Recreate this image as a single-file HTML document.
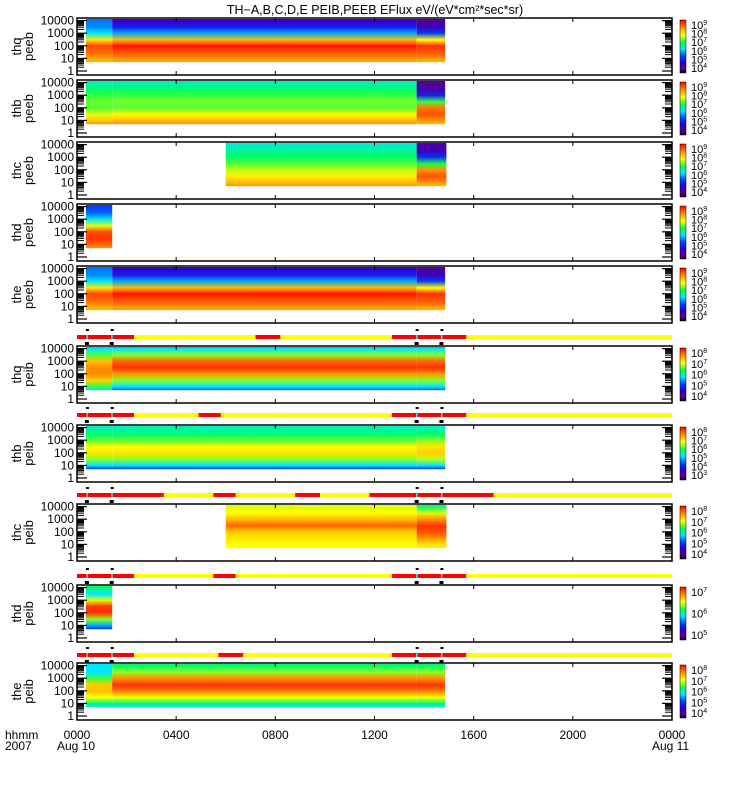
<!DOCTYPE html>
<html><head><meta charset="utf-8"><style>
body{margin:0;background:#fff;}
svg{display:block;font-family:"Liberation Sans",sans-serif;}
</style></head><body>
<svg id="chart" width="750" height="800" xmlns="http://www.w3.org/2000/svg">
<defs id="defs"></defs>
<text x="375" y="14" text-anchor="middle" font-size="12.5">TH−A,B,C,D,E PEIB,PEEB EFlux eV/(eV*cm²*sec*sr)</text>
</svg>
<script>
// ---- data ----
const panelNames=["thq peeb","thb peeb","thc peeb","thd peeb","the peeb","thq peib","thb peib","thc peib","thd peib","the peib"];
const panelTops=[18,80,142,204,266,346,425,504,585,663];
const energies=[5,10,30,100,300,1000,3000,10000,25000];
// profiles: normalized log flux (0..1) at each energy
const profA=[0.82,0.85,0.92,0.98,0.80,0.40,0.25,0.18,0.16];
const profA0=[0.80,0.83,0.90,0.93,0.75,0.45,0.38,0.36,0.35];
const profAe=[0.80,0.85,0.92,0.95,0.72,0.30,0.15,0.10,0.10];
const profB=[0.85,0.80,0.72,0.62,0.64,0.60,0.55,0.50,0.50];
const profB0=[0.85,0.78,0.70,0.62,0.63,0.60,0.55,0.50,0.50];
const profBe=[0.80,0.85,0.92,0.88,0.60,0.25,0.12,0.10,0.10];
const profC=[0.85,0.80,0.74,0.68,0.62,0.56,0.52,0.48,0.48];
const profCe=[0.80,0.85,0.92,0.85,0.58,0.28,0.15,0.12,0.12];
const profD=[0.85,0.90,0.95,0.92,0.70,0.45,0.35,0.30,0.30];
const profI_q=[0.35,0.45,0.65,0.85,0.95,0.90,0.65,0.45,0.40];
const profI_q0=[0.45,0.60,0.78,0.86,0.86,0.80,0.62,0.45,0.42];
const profI_b=[0.30,0.45,0.65,0.75,0.72,0.62,0.55,0.50,0.50];
const profI_be=[0.30,0.45,0.68,0.78,0.75,0.65,0.55,0.50,0.50];
const profI_c=[0.72,0.72,0.75,0.78,0.90,0.80,0.72,0.70,0.70];
const profI_ce=[0.70,0.75,0.85,0.92,0.95,0.85,0.70,0.55,0.50];
const profI_d=[0.30,0.40,0.65,0.95,0.95,0.70,0.45,0.55,0.55];
const profI_e=[0.45,0.55,0.72,0.88,0.95,0.85,0.65,0.55,0.55];
const profI_e0=[0.45,0.55,0.72,0.80,0.78,0.60,0.45,0.45,0.45];
// segments per panel: [startHour, endHour, profile]
const segments=[
 [[0.36,1.42,profA0],[1.42,13.7,profA],[13.7,14.85,profAe]],
 [[0.36,1.42,profB0],[1.42,13.7,profB],[13.7,14.85,profBe]],
 [[6.0,13.7,profC],[13.7,14.9,profCe]],
 [[0.36,1.42,profD]],
 [[0.36,1.42,profA0],[1.42,13.7,profA],[13.7,14.85,profAe]],
 [[0.36,1.42,profI_q0],[1.42,13.7,profI_q],[13.7,14.85,profI_q]],
 [[0.36,1.42,profI_b],[1.42,13.7,profI_b],[13.7,14.85,profI_be]],
 [[6.0,13.7,profI_c],[13.7,14.9,profI_ce]],
 [[0.36,1.42,profI_d]],
 [[0.36,1.42,profI_e0],[1.42,13.7,profI_e],[13.7,14.85,profI_e]]
];
const colorbarLabels=[[4,9],[4,9],[4,9],[4,9],[4,9],[4,8],[3,8],[4,8],[5,7],[4,8]];
const barYs=[337,415,495,576,655];
const barRed=[
 [[0,2.3],[7.2,8.2],[12.7,15.7]],
 [[0,2.3],[4.9,5.8],[12.7,15.7]],
 [[0,3.5],[5.5,6.4],[8.8,9.8],[11.8,16.8]],
 [[0,2.3],[5.5,6.4],[12.7,15.7]],
 [[0,2.3],[5.7,6.7],[12.7,15.7]]
];
const markerHours=[0.4,1.4,13.7,14.7];
const tickHours=[0,4,8,12,16,20,24];
const tickLabels=["0000","0400","0800","1200","1600","2000","0000"];
// ---- helpers ----
const NS="http://www.w3.org/2000/svg";
const svg=document.getElementById('chart');
const defs=document.getElementById('defs');
const X0=77,X1=672,PH=57;
function xs(t){return X0+t/24*(X1-X0);}
function ys(top,e){return top+PH-4-Math.log10(e)*12.6;}
const cmap=[[0,[20,0,30]],[0.08,[90,0,140]],[0.2,[40,0,220]],[0.32,[0,70,255]],[0.45,[0,230,255]],[0.57,[0,255,80]],[0.72,[255,255,0]],[0.86,[255,140,0]],[1,[255,0,0]]];
function col(v){v=Math.max(0,Math.min(1,v));for(let i=1;i<cmap.length;i++){if(v<=cmap[i][0]){const a=cmap[i-1],b=cmap[i];const f=(v-a[0])/(b[0]-a[0]);const c=a[1].map((q,k)=>Math.round(q+(b[1][k]-q)*f));return`rgb(${c})`;}}return'rgb(255,0,0)';}
function el(tag,attrs,parent){const e=document.createElementNS(NS,tag);for(const k in attrs)e.setAttribute(k,attrs[k]);(parent||svg).appendChild(e);return e;}
let gid=0;
panelNames.forEach((name,p)=>{
 const top=panelTops[p];
 const g=el('g',{});
 
 
 segments[p].forEach(s=>{
  const yTop=top+1,yBot=ys(top,energies[0]);
  const id='gr'+(gid++);
  const lg=el('linearGradient',{id:id,x1:0,y1:0,x2:0,y2:1},defs);
  for(let i=energies.length-1;i>=0;i--){const yy=ys(top,energies[i]);let off=(yy-yTop)/(yBot-yTop);off=Math.max(0,Math.min(1,off));el('stop',{offset:off,'stop-color':col(s[2][i])},lg);}
  const r=el('rect',{x:xs(s[0]),y:yTop,width:xs(s[1])-xs(s[0]),height:yBot-yTop,fill:`url(#${id})`},g);
  
  
 });
 const fr=el('rect',{x:X0,y:top,width:X1-X0,height:PH,fill:'none',stroke:'#000','stroke-width':1.5},g);
 
 
 [1,10,100,1000,10000].forEach(e=>{const yy=ys(top,e);
  el('line',{x1:X0,x2:X0+10,y1:yy,y2:yy,stroke:'#000','stroke-width':1.2},g);
  el('line',{x1:X1-10,x2:X1,y1:yy,y2:yy,stroke:'#000','stroke-width':1.2},g);
  const t=el('text',{x:X0-3,y:yy+4,'text-anchor':'end','font-size':12},g);t.textContent=e;
  
  
  for(let m=2;m<10;m++){const ym=ys(top,e*m);if(ym<top+1)continue;
   el('line',{x1:X0,x2:X0+7,y1:ym,y2:ym,stroke:'#000','stroke-width':1},g);
   el('line',{x1:X1-7,x2:X1,y1:ym,y2:ym,stroke:'#000','stroke-width':1},g);}
 });
 tickHours.forEach(h=>{const xx=xs(h);el('line',{x1:xx,x2:xx,y1:top+PH,y2:top+PH-4,stroke:'#000'},g);el('line',{x1:xx,x2:xx,y1:top,y2:top+4,stroke:'#000'},g);});
 const parts=name.split(' ');
 const yl=el('text',{transform:`translate(21,${top+PH/2}) rotate(-90)`,'text-anchor':'middle','font-size':13},g);yl.textContent=parts[0];
 
 
 const yl2=el('text',{transform:`translate(33,${top+PH/2}) rotate(-90)`,'text-anchor':'middle','font-size':13},g);yl2.textContent=parts[1];
 
 
 const cid='cb'+p;const cg=el('linearGradient',{id:cid,x1:0,y1:1,x2:0,y2:0},defs);
 cmap.forEach(c=>el('stop',{offset:c[0],'stop-color':col(c[0])},cg));
 const cb=el('rect',{x:680,y:top+2,width:6,height:PH-4,fill:`url(#${cid})`,stroke:'#000','stroke-width':0.5},g);
 
 
 const [lo,hi]=colorbarLabels[p];
 for(let n=lo;n<=hi;n++){const yy=top+PH-7-(n-lo)/(hi-lo)*(PH-14);
  const t=el('text',{x:691,y:yy+4,'font-size':11},g);t.textContent='10';
  const sp=el('tspan',{dy:-4,'font-size':7},t);sp.textContent=n;
  
  }
});
barYs.forEach((by,i)=>{
 const g=el('g',{});
 
 
 el('rect',{x:X0,y:by-2,width:X1-X0,height:4,fill:'#ffff00'},g);
 barRed[i].forEach(s=>{const r=el('rect',{x:xs(s[0]),y:by-2,width:xs(s[1])-xs(s[0]),height:4,fill:'#ff0000'},g);
  
  });
 markerHours.forEach(h=>{const xx=xs(h);
  el('rect',{x:xx-0.5,y:by-2,width:1.5,height:4,fill:'#00ffff'},g);
  el('rect',{x:xx-1,y:by-8,width:3,height:2,fill:'#000'},g);
  el('rect',{x:xx-2,y:by+5,width:4,height:3,fill:'#000'},g);});
});
tickHours.forEach((h,i)=>{const t=el('text',{x:xs(h),y:739,'text-anchor':'middle','font-size':12});t.textContent=tickLabels[i];
 
 });
[["hhmm",5,739],["2007",5,750],["Aug 10",xs(0)-20,750],["Aug 11",xs(24)-20,750]].forEach(a=>{const t=el('text',{x:a[1],y:a[2],'font-size':12});t.textContent=a[0];
 
 });
</script>
</body></html>
